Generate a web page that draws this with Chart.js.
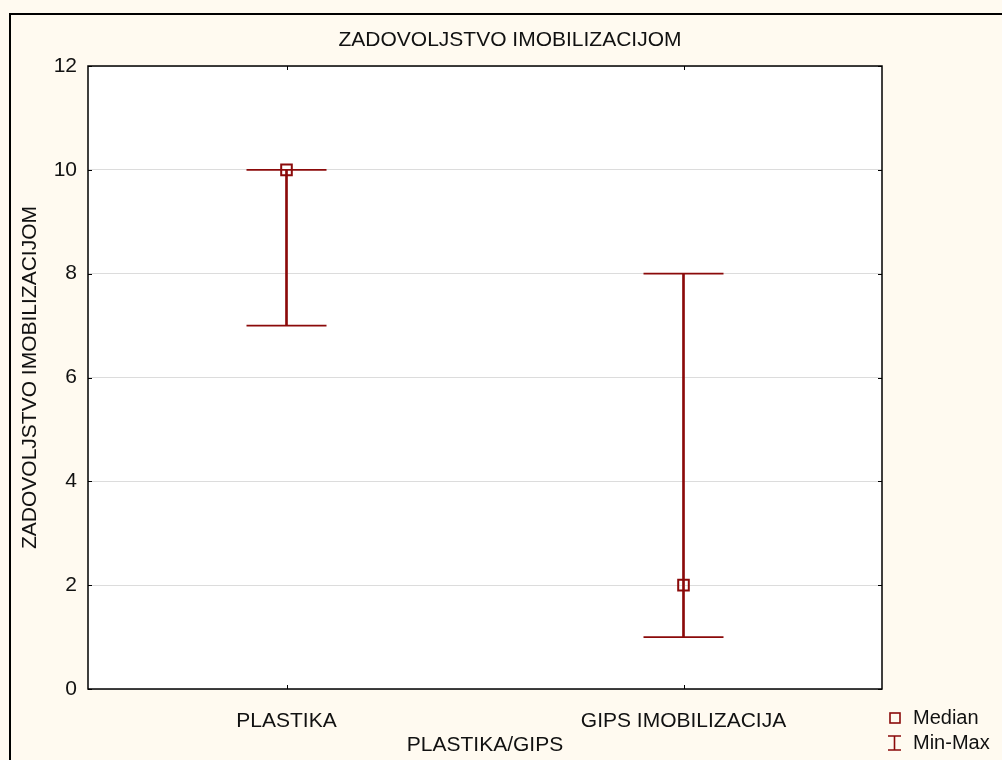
<!DOCTYPE html>
<html>
<head>
<meta charset="utf-8">
<script src="https://cdn.jsdelivr.net/npm/chart.js@4/dist/chart.umd.min.js"></script>
<style>
  html, body { margin: 0; padding: 0; background: #fff; }
  canvas { display: block; }
</style>
</head>
<body>
<canvas id="medianChart" width="1002" height="760"></canvas>
<script>
// data
var categories = ["PLASTIKA", "GIPS IMOBILIZACIJA"];
var medianValues = [10, 2];
var minValues = [7, 1];
var maxValues = [10, 8];
var yTicks = [0, 2, 4, 6, 8, 10, 12];

var chartTitle = "ZADOVOLJSTVO IMOBILIZACIJOM";
var xTitle = "PLASTIKA/GIPS";
var yTitle = "ZADOVOLJSTVO IMOBILIZACIJOM";

var red = "#8b0a0a";
var fontFamily = "'Liberation Sans', Arial, sans-serif";

var rangeData = [];
for (let i = 0; i < categories.length; i++) {
    rangeData.push([minValues[i], maxValues[i]]);
}

// background, frame, inner ticks, title and legend
var decorPlugin = {
    id: "decor",
    beforeDraw: function (chart) {
        var ctx = chart.ctx;
        var area = chart.chartArea;
        ctx.save();
        ctx.fillStyle = "#fffaf0";
        ctx.fillRect(0, 0, chart.width, chart.height);
        ctx.fillStyle = "#ffffff";
        ctx.fillRect(area.left, area.top, area.right - area.left, area.bottom - area.top);
        ctx.strokeStyle = "#000";
        ctx.lineWidth = 2;
        ctx.beginPath();
        ctx.moveTo(10, chart.height + 5);
        ctx.lineTo(10, 14);
        ctx.lineTo(chart.width + 5, 14);
        ctx.stroke();
        ctx.restore();
    },
    afterDraw: function (chart) {
        var ctx = chart.ctx;
        var area = chart.chartArea;
        var xs = chart.scales.x;
        var ys = chart.scales.y;
        ctx.save();
        ctx.strokeStyle = "#000";
        ctx.lineWidth = 1.5;
        ctx.strokeRect(area.left, area.top, area.right - area.left, area.bottom - area.top);

        ctx.lineWidth = 1;
        ctx.beginPath();
        for (let i = 0; i < categories.length; i++) {
            var px = Math.round(xs.getPixelForTick(i)) + 0.5;
            ctx.moveTo(px, area.top);
            ctx.lineTo(px, area.top + 4);
            ctx.moveTo(px, area.bottom);
            ctx.lineTo(px, area.bottom - 4);
        }
        yTicks.forEach(function (v) {
            var py = Math.round(ys.getPixelForValue(v)) + 0.5;
            ctx.moveTo(area.left, py);
            ctx.lineTo(area.left + 4, py);
            ctx.moveTo(area.right, py);
            ctx.lineTo(area.right - 4, py);
        });
        ctx.stroke();

        ctx.fillStyle = "#111";
        ctx.font = "21px " + fontFamily;
        ctx.textAlign = "center";
        ctx.textBaseline = "middle";
        ctx.fillText(chartTitle, 510, 40);

        // legend
        ctx.strokeStyle = red;
        ctx.lineWidth = 1.6;
        ctx.strokeRect(890, 713, 10, 10);
        ctx.beginPath();
        ctx.moveTo(894.5, 736);
        ctx.lineTo(894.5, 750);
        ctx.moveTo(888, 736);
        ctx.lineTo(901, 736);
        ctx.moveTo(888, 750);
        ctx.lineTo(901, 750);
        ctx.stroke();
        ctx.textAlign = "left";
        ctx.font = "20px " + fontFamily;
        ctx.fillText("Median", 913, 718);
        ctx.fillText("Min-Max", 913, 743);
        ctx.restore();
    }
};

new Chart(document.getElementById("medianChart"), {
    type: "bar",
    data: {
        labels: categories,
        datasets: [
            {
                type: "line",
                label: "Median",
                data: medianValues,
                showLine: false,
                pointStyle: "rect",
                pointRadius: 7.5,
                pointHoverRadius: 7.5,
                pointBorderWidth: 2,
                pointBorderColor: red,
                pointBackgroundColor: "rgba(0,0,0,0)",
                order: 0
            },
            {
                type: "line",
                label: "Max",
                data: maxValues,
                showLine: false,
                pointStyle: "line",
                pointRadius: 40,
                pointHoverRadius: 40,
                pointBorderWidth: 1.8,
                pointBorderColor: red,
                order: 1
            },
            {
                type: "line",
                label: "Min",
                data: minValues,
                showLine: false,
                pointStyle: "line",
                pointRadius: 40,
                pointHoverRadius: 40,
                pointBorderWidth: 1.8,
                pointBorderColor: red,
                order: 1
            },
            {
                label: "Min-Max",
                data: rangeData,
                backgroundColor: red,
                borderWidth: 0,
                barThickness: 2,
                order: 2
            }
        ]
    },
    options: {
        responsive: false,
        animation: false,
        devicePixelRatio: 1,
        layout: { padding: { left: 10, top: 66, right: 120, bottom: 0 } },
        plugins: {
            legend: { display: false },
            title: { display: false },
            tooltip: { enabled: false }
        },
        scales: {
            x: {
                offset: true,
                grid: { display: false },
                border: { display: false },
                ticks: {
                    color: "#111",
                    padding: 12,
                    font: { family: fontFamily, size: 21 }
                },
                title: {
                    display: true,
                    text: xTitle,
                    color: "#111",
                    padding: { top: 0, bottom: 2 },
                    font: { family: fontFamily, size: 21 }
                },
                afterFit: function (scale) { scale.height = 71; }
            },
            y: {
                min: 0,
                max: 12,
                grid: {
                    color: "#dcdcdc",
                    lineWidth: 1,
                    drawTicks: false
                },
                border: { display: false },
                ticks: {
                    stepSize: 2,
                    color: "#111",
                    padding: 11,
                    font: { family: fontFamily, size: 21 }
                },
                title: {
                    display: true,
                    text: yTitle,
                    color: "#111",
                    padding: { top: 8, bottom: 0 },
                    font: { family: fontFamily, size: 21 }
                },
                afterFit: function (scale) { scale.width = 78; }
            }
        }
    },
    plugins: [decorPlugin]
});
</script>
</body>
</html>
